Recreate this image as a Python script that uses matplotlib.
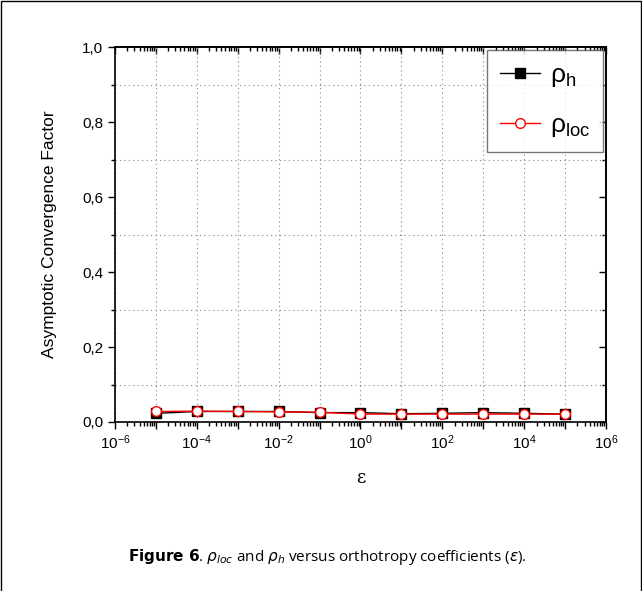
import matplotlib
matplotlib.use("Agg")
import matplotlib.pyplot as plt
from matplotlib.ticker import LogLocator, MultipleLocator, FuncFormatter, NullFormatter
from matplotlib.patches import Rectangle
import numpy as np

# data
eps = [1e-5, 1e-4, 1e-3, 1e-2, 1e-1, 1e0, 1e1, 1e2, 1e3, 1e4, 1e5]
rho_h = [0.023, 0.028, 0.028, 0.028, 0.025, 0.025, 0.022, 0.023, 0.025, 0.023, 0.021]
rho_loc = [0.028, 0.029, 0.028, 0.027, 0.026, 0.021, 0.021, 0.021, 0.021, 0.021, 0.021]

plt.rcParams['font.family'] = ['Liberation Sans', 'DejaVu Sans']
plt.rcParams['mathtext.fontset'] = 'custom'
plt.rcParams['mathtext.rm'] = 'Liberation Sans'
plt.rcParams['mathtext.it'] = 'Liberation Sans'
plt.rcParams['mathtext.bf'] = 'Liberation Sans:bold'

fig = plt.figure(figsize=(6.42, 5.91), dpi=100)
ax = fig.add_axes([0.179, 0.286, 0.765, 0.634])

ax.plot(eps, rho_h, color='black', lw=1, marker='s', ms=7, mfc='black', mec='black',
        label=r'$\rho_\mathrm{h}$', zorder=3)
ax.plot(eps, rho_loc, color='red', lw=1, marker='o', ms=7, mfc='white', mec='red',
        label=r'$\rho_\mathrm{loc}$', zorder=4)

ax.set_xscale('log')
ax.set_xlim(1e-6, 1e6)
ax.set_ylim(0, 1.0)

ax.xaxis.set_major_locator(LogLocator(base=10, numticks=20))
ax.xaxis.set_minor_locator(LogLocator(base=10, subs=np.arange(2, 10), numticks=20))
ax.xaxis.set_minor_formatter(NullFormatter())

def xfmt(v, pos):
    e = int(round(np.log10(v)))
    if e % 2 == 0:
        return r'$\mathregular{10^{%s}}$' % str(e).replace('-', '-')
    return ''

ax.xaxis.set_major_formatter(FuncFormatter(xfmt))
ax.yaxis.set_major_locator(MultipleLocator(0.2))
ax.yaxis.set_minor_locator(MultipleLocator(0.1))
ax.yaxis.set_major_formatter(FuncFormatter(lambda v, p: ('%.1f' % v).replace('.', ',')))

ax.tick_params(which='both', direction='out', labelsize=11, width=1)
ax.tick_params(which='major', length=5)
ax.tick_params(which='minor', length=3)

# mirrored ticks pointing inward on top and right
top = ax.secondary_xaxis('top')
top.xaxis.set_major_locator(LogLocator(base=10, numticks=20))
top.xaxis.set_minor_locator(LogLocator(base=10, subs=np.arange(2, 10), numticks=20))
top.tick_params(which='both', direction='in', labeltop=False, width=1)
top.tick_params(which='major', length=5)
top.tick_params(which='minor', length=3)
top.xaxis.set_minor_formatter(NullFormatter())
top.xaxis.set_major_formatter(NullFormatter())
right = ax.secondary_yaxis('right')
right.yaxis.set_major_locator(MultipleLocator(0.2))
right.yaxis.set_minor_locator(MultipleLocator(0.1))
right.tick_params(which='both', direction='in', labelright=False, width=1)
right.tick_params(which='major', length=5)
right.tick_params(which='minor', length=3)

for s in ax.spines.values():
    s.set_linewidth(1.2)
top.spines['top'].set_linewidth(1.2)
right.spines['right'].set_linewidth(1.2)

ax.grid(which='major', axis='x', color='#888888', ls=(0, (1, 3)), lw=0.8)
ax.grid(which='minor', axis='y', color='#888888', ls=(0, (1, 3)), lw=0.8)

ax.set_xlabel('ε', family='DejaVu Serif', fontsize=13, labelpad=12)
ax.set_ylabel('Asymptotic Convergence Factor', fontsize=12.5, labelpad=18)

leg = ax.legend(loc='upper right', fontsize=19, frameon=True, fancybox=False,
                edgecolor='#555555', borderaxespad=0.1, handlelength=1.5,
                handletextpad=0.4, labelspacing=0.9, borderpad=0.5)
leg.get_frame().set_linewidth(1)

fig.text(0.51, 0.057,
         r'$\mathbf{Figure\ 6}$. $\rho_{loc}$ and $\rho_h$ versus orthotropy coefficients ($\varepsilon$).',
         ha='center', va='center', fontsize=11, family='Open Sans', math_fontfamily='dejavusans')

fig.patches.append(Rectangle((0.002, -0.1), 0.996, 1.098, transform=fig.transFigure,
                             fill=False, edgecolor='black', lw=1))

fig.savefig('out.png', dpi=100)
